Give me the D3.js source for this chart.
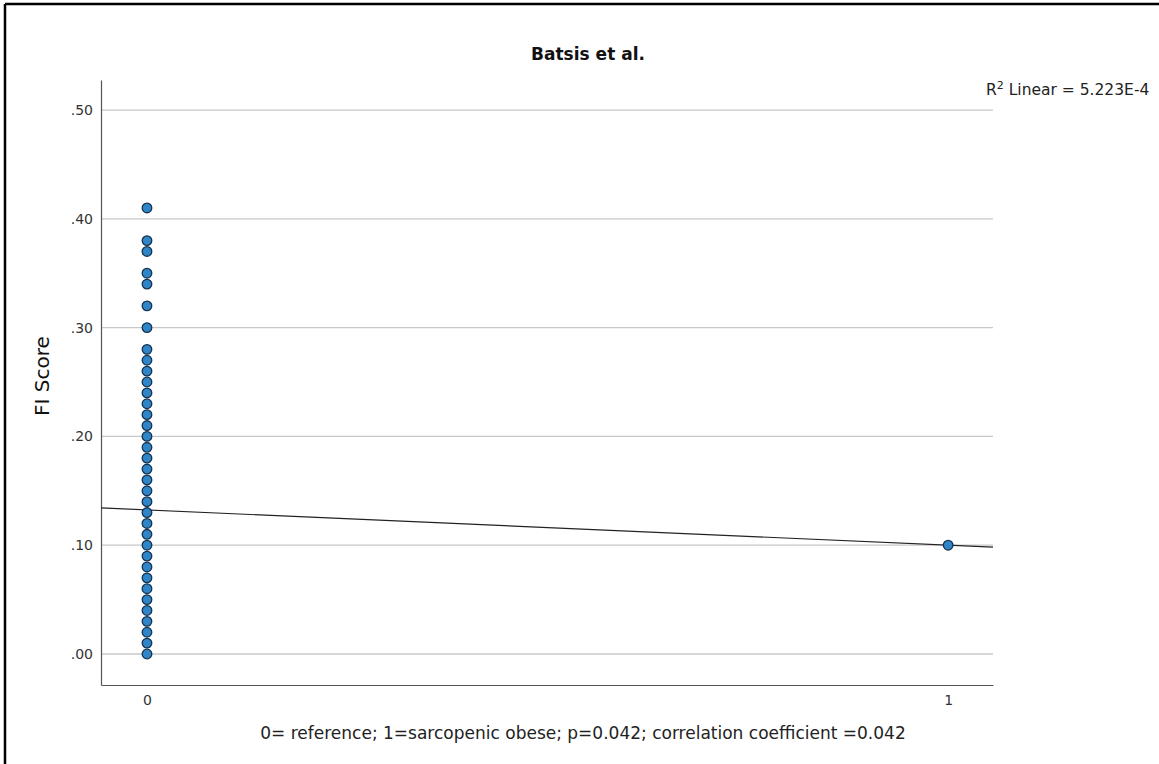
<!DOCTYPE html>
<html>
<head>
<meta charset="utf-8">
<script src="https://cdn.jsdelivr.net/npm/d3@7"></script>
<style>
  body { margin: 0; background: #fff; }
  svg { display: block; font-family: "DejaVu Sans", sans-serif; }
</style>
</head>
<body>
<svg id="chart" width="1159" height="764"></svg>
<script>
// group 0 = reference, group 1 = sarcopenic obese
const groupZero = [0.41, 0.38, 0.37, 0.35, 0.34, 0.32, 0.30,
  0.28, 0.27, 0.26, 0.25, 0.24, 0.23, 0.22, 0.21, 0.20, 0.19, 0.18, 0.17,
  0.16, 0.15, 0.14, 0.13, 0.12, 0.11, 0.10, 0.09, 0.08, 0.07, 0.06, 0.05,
  0.04, 0.03, 0.02, 0.01, 0.00];
const groupOne = [0.10];
const yTicks = [0, 0.1, 0.2, 0.3, 0.4, 0.5];
const xTicks = [0, 1];
// fit line from the picture
const fitIntercept = 0.1324;
const fitSlope = -0.0324;

const points = groupZero.map(v => ({ x: 0, y: v }))
  .concat(groupOne.map(v => ({ x: 1, y: v })));

const svg = d3.select('#chart');
const plotLeft = 101, plotRight = 993, plotTop = 80, plotBottom = 685;

const x = d3.scaleLinear().domain([-0.0574, 1.056]).range([plotLeft, plotRight]);
const y = d3.scaleLinear().domain([-0.0285, 0.5276]).range([plotBottom, plotTop]);

// frame (top and left only)
svg.append('line').attr('x1', 5).attr('x2', 1159).attr('y1', 4).attr('y2', 4)
  .attr('stroke', '#000').attr('stroke-width', 2.5);
svg.append('line').attr('x1', 5).attr('x2', 5).attr('y1', 4).attr('y2', 764)
  .attr('stroke', '#000').attr('stroke-width', 2.5);

// grid lines
svg.append('g').selectAll('line').data(yTicks).enter().append('line')
  .attr('x1', plotLeft).attr('x2', plotRight)
  .attr('y1', d => y(d)).attr('y2', d => y(d))
  .attr('stroke', '#c8c8c8').attr('stroke-width', 1.3);

// axes
const yAxis = svg.append('g').attr('transform', `translate(${plotLeft},0)`)
  .call(d3.axisLeft(y).tickValues(yTicks).tickSize(0).tickPadding(8)
    .tickFormat(d => d3.format('.2f')(d).replace(/^0/, '')));
const xAxis = svg.append('g').attr('transform', `translate(0,${plotBottom})`)
  .call(d3.axisBottom(x).tickValues(xTicks).tickSize(0).tickPadding(10)
    .tickFormat(d3.format('d')));
[yAxis, xAxis].forEach(a => {
  a.select('.domain').attr('stroke', '#555').attr('stroke-width', 1.2);
  a.selectAll('text').attr('fill', '#333').style('font-size', '14px')
    .style('font-family', '"DejaVu Sans", sans-serif');
});

// fit line
svg.append('line')
  .attr('x1', x(x.domain()[0])).attr('y1', y(fitIntercept + fitSlope * x.domain()[0]))
  .attr('x2', x(x.domain()[1])).attr('y2', y(fitIntercept + fitSlope * x.domain()[1]))
  .attr('stroke', '#222').attr('stroke-width', 1.2);

// points
svg.append('g').selectAll('circle').data(points).enter().append('circle')
  .attr('cx', d => x(d.x)).attr('cy', d => y(d.y)).attr('r', 4.8)
  .attr('fill', '#2e86c9').attr('stroke', '#16324f').attr('stroke-width', 1.3);

// texts
svg.append('text').attr('x', 588).attr('y', 60).attr('text-anchor', 'middle')
  .style('font-size', '17px').style('font-weight', 'bold').attr('fill', '#111')
  .text('Batsis et al.');

svg.append('text').attr('transform', 'translate(49,376) rotate(-90)')
  .attr('text-anchor', 'middle').style('font-size', '20px').attr('fill', '#111')
  .text('FI Score');

svg.append('text').attr('x', 583).attr('y', 739).attr('text-anchor', 'middle')
  .style('font-size', '17px').attr('fill', '#222')
  .text('0= reference; 1=sarcopenic obese; p=0.042; correlation coefficient =0.042');

const r2 = svg.append('text').attr('x', 986).attr('y', 95)
  .style('font-size', '15.5px').attr('fill', '#222');
r2.append('tspan').text('R');
r2.append('tspan').attr('dy', -6).style('font-size', '11px').text('2');
r2.append('tspan').attr('dy', 6).text(' Linear = 5.223E-4');
</script>
</body>
</html>
